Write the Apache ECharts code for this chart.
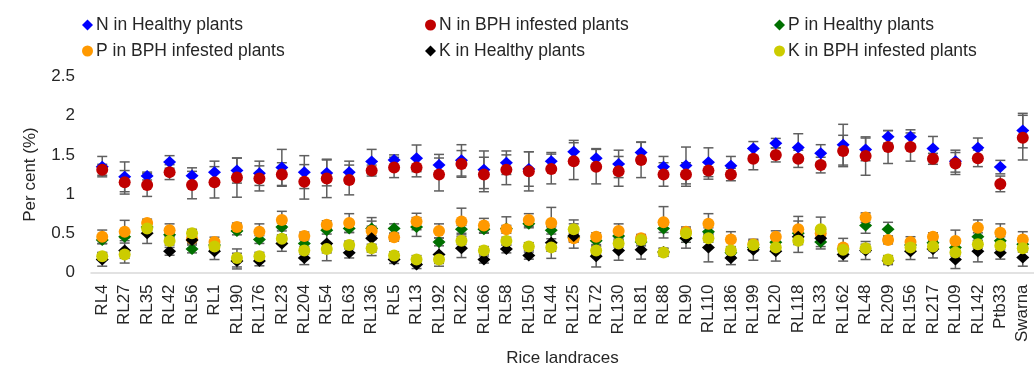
<!DOCTYPE html>
<html>
<head>
<meta charset="utf-8">
<script src="https://cdn.jsdelivr.net/npm/echarts@6/dist/echarts.min.js"></script>
<style>
  html, body { margin: 0; padding: 0; background: #fff; }
  #chart { width: 1034px; height: 372px; }
</style>
</head>
<body>
<div id="chart"></div>
<script>
// 水稻地方品种
const categories = ['RL4','RL27','RL35','RL42','RL56','RL1','RL190','RL176','RL23','RL204','RL54','RL63','RL136','RL5','RL13','RL192','RL22','RL166','RL58','RL150','RL44','RL125','RL72','RL130','RL81','RL88','RL90','RL110','RL186','RL199','RL20','RL118','RL33','RL162','RL48','RL209','RL156','RL217','RL109','RL142','Ptb33','Swarna']

// 平均值
const nHealthy = [1.35,1.22,1.23,1.41,1.235,1.28,1.30,1.265,1.34,1.28,1.27,1.28,1.415,1.435,1.456,1.37,1.43,1.31,1.40,1.32,1.42,1.54,1.456,1.385,1.53,1.35,1.365,1.406,1.36,1.58,1.65,1.594,1.52,1.63,1.57,1.73,1.73,1.58,1.42,1.59,1.344,1.81]
const nBph = [1.31,1.15,1.115,1.28,1.115,1.15,1.21,1.20,1.25,1.156,1.20,1.18,1.30,1.34,1.34,1.25,1.385,1.25,1.31,1.29,1.32,1.42,1.35,1.29,1.435,1.25,1.25,1.30,1.25,1.45,1.50,1.45,1.37,1.55,1.485,1.60,1.60,1.45,1.39,1.456,1.13,1.72]
const pHealthy = [0.415,0.456,0.58,0.48,0.30,0.35,0.53,0.42,0.58,0.37,0.54,0.56,0.56,0.56,0.58,0.39,0.55,0.55,0.56,0.62,0.54,0.45,0.406,0.465,0.39,0.56,0.435,0.52,0.25,0.32,0.385,0.50,0.39,0.30,0.60,0.55,0.35,0.38,0.32,0.456,0.406,0.36]
const pBph = [0.456,0.52,0.63,0.54,0.43,0.39,0.58,0.52,0.67,0.465,0.61,0.63,0.53,0.45,0.65,0.53,0.65,0.60,0.55,0.67,0.63,0.435,0.456,0.53,0.435,0.64,0.52,0.62,0.42,0.36,0.456,0.55,0.50,0.32,0.70,0.415,0.39,0.456,0.40,0.57,0.506,0.42]
const kHealthy = [0.165,0.28,0.50,0.27,0.415,0.27,0.145,0.145,0.37,0.185,0.37,0.25,0.435,0.165,0.10,0.23,0.31,0.165,0.30,0.215,0.38,0.465,0.206,0.28,0.29,0.26,0.435,0.32,0.185,0.29,0.27,0.456,0.435,0.23,0.28,0.15,0.27,0.30,0.165,0.27,0.25,0.19]
const kBph = [0.206,0.23,0.56,0.40,0.50,0.33,0.185,0.206,0.43,0.28,0.30,0.35,0.31,0.215,0.165,0.165,0.406,0.28,0.40,0.33,0.32,0.55,0.28,0.37,0.415,0.256,0.50,0.435,0.28,0.35,0.32,0.406,0.55,0.29,0.31,0.165,0.32,0.33,0.256,0.36,0.34,0.31]

// 误差 (±)
const nHealthyErr = [0.13,0.19,0.05,0.08,0.10,0.14,0.16,0.155,0.23,0.21,0.165,0.14,0.155,0.065,0.17,0.136,0.20,0.24,0.15,0.22,0.11,0.145,0.124,0.175,0.135,0.13,0.235,0.184,0.12,0.09,0.06,0.176,0.11,0.26,0.145,0.08,0.09,0.155,0.14,0.125,0.086,0.22]
const nBphErr = [0.07,0.15,0.145,0.095,0.175,0.20,0.25,0.16,0.15,0.22,0.245,0.19,0.07,0.13,0.12,0.21,0.17,0.22,0.19,0.25,0.19,0.235,0.22,0.19,0.225,0.15,0.15,0.11,0.08,0.14,0.09,0.11,0.10,0.20,0.245,0.21,0.18,0.07,0.14,0.106,0.10,0.285]
const pHealthyErr = [0.05,0.05,0.05,0.05,0.05,0.05,0.05,0.05,0.05,0.06,0.05,0.05,0.14,0.06,0.12,0.05,0.05,0.05,0.15,0.05,0.05,0.05,0.05,0.05,0.05,0.05,0.05,0.05,0.05,0.05,0.05,0.05,0.06,0.05,0.10,0.09,0.05,0.05,0.05,0.05,0.05,0.05]
const pBphErr = [0.085,0.145,0.05,0.08,0.05,0.06,0.05,0.10,0.11,0.05,0.05,0.12,0.06,0.05,0.105,0.09,0.17,0.09,0.05,0.08,0.20,0.05,0.05,0.09,0.05,0.20,0.06,0.13,0.10,0.05,0.075,0.165,0.05,0.115,0.06,0.05,0.066,0.05,0.14,0.10,0.114,0.10]
const kHealthyErr = [0.085,0.16,0.13,0.05,0.05,0.105,0.10,0.06,0.10,0.085,0.22,0.065,0.22,0.05,0.05,0.15,0.12,0.045,0.05,0.045,0.20,0.155,0.136,0.124,0.12,0.05,0.125,0.185,0.085,0.134,0.125,0.20,0.135,0.085,0.115,0.05,0.105,0.115,0.115,0.135,0.08,0.11]
const kBphErr = [0.05,0.05,0.05,0.05,0.05,0.05,0.115,0.05,0.05,0.05,0.05,0.05,0.05,0.05,0.05,0.05,0.05,0.05,0.05,0.05,0.05,0.12,0.05,0.05,0.05,0.05,0.05,0.05,0.05,0.05,0.05,0.05,0.156,0.05,0.05,0.05,0.05,0.05,0.05,0.05,0.05,0.05]

const font = 'Liberation Sans, Arial, sans-serif'
const textColor = '#262626'

// 误差线数据 [x, low, high]
function errData(vals, errs) {
  return vals.map((v, i) => [i, v - errs[i], v + errs[i]])
}
const allErr = [].concat(
  errData(nHealthy, nHealthyErr), errData(nBph, nBphErr),
  errData(pHealthy, pHealthyErr), errData(pBph, pBphErr),
  errData(kHealthy, kHealthyErr), errData(kBph, kBphErr)
)

const myChart = echarts.init(document.getElementById('chart'), null, { renderer: 'canvas' })

function legendCol(left, names) {
  return {
    orient: 'vertical',
    left: left,
    top: 11,
    itemGap: 8,
    itemWidth: 11,
    itemHeight: 11,
    data: names,
    textStyle: { fontFamily: font, fontSize: 17.5, color: textColor, padding: [0, 0, 0, -2] }
  }
}

function scatter(name, data, symbol, color, size) {
  return {
    name: name,
    type: 'scatter',
    data: data,
    symbol: symbol,
    symbolSize: size,
    itemStyle: { color: color, opacity: 1 },
    z: 3
  }
}

const option = {
  animation: false,
  textStyle: { fontFamily: font },
  legend: [
    legendCol(77, ['N in Healthy plants', 'P in BPH infested plants']),
    legendCol(420, ['N in BPH infested plants', 'K in Healthy plants']),
    legendCol(769, ['P in Healthy plants', 'K in BPH infested plants'])
  ],
  grid: { left: 91, top: 76.5, width: 946, bottom: 95.5 },
  xAxis: {
    type: 'category',
    data: categories,
    name: 'Rice landraces',
    nameLocation: 'middle',
    nameGap: 69,
    nameTextStyle: { fontFamily: font, fontSize: 17, color: textColor },
    axisLine: { lineStyle: { color: '#d9d9d9', width: 1.5 } },
    axisTick: { show: false },
    axisLabel: { interval: 0, rotate: 90, margin: 12, fontFamily: font, fontSize: 17, color: textColor }
  },
  yAxis: {
    type: 'value',
    min: 0,
    max: 2.5,
    interval: 0.5,
    name: 'Per cent (%)',
    nameLocation: 'middle',
    nameGap: 52,
    nameTextStyle: { fontFamily: font, fontSize: 17, color: textColor },
    axisLine: { show: false },
    axisTick: { show: false },
    splitLine: { show: false },
    axisLabel: { margin: 16, fontFamily: font, fontSize: 17, color: textColor }
  },
  series: [
    {
      type: 'custom',
      name: 'err',
      data: allErr,
      z: 2,
      renderItem(params, api) {
        const lo = api.coord([api.value(0), api.value(1)])
        const hi = api.coord([api.value(0), api.value(2)])
        const w = 5
        const style = { stroke: '#5f5f5f', lineWidth: 1.5 }
        return {
          type: 'group',
          children: [
            { type: 'line', shape: { x1: lo[0], y1: lo[1], x2: hi[0], y2: hi[1] }, style },
            { type: 'line', shape: { x1: lo[0] - w, y1: lo[1], x2: lo[0] + w, y2: lo[1] }, style },
            { type: 'line', shape: { x1: hi[0] - w, y1: hi[1], x2: hi[0] + w, y2: hi[1] }, style }
          ]
        }
      }
    },
    scatter('N in Healthy plants', nHealthy, 'diamond', '#0000ff', [13, 12]),
    scatter('N in BPH infested plants', nBph, 'circle', '#c00000', 12),
    scatter('P in Healthy plants', pHealthy, 'diamond', '#007000', [13, 12]),
    scatter('P in BPH infested plants', pBph, 'circle', '#ff9900', 12),
    scatter('K in Healthy plants', kHealthy, 'diamond', '#000000', [13, 12]),
    scatter('K in BPH infested plants', kBph, 'circle', '#cccc00', 12)
  ]
}
myChart.setOption(option)
</script>
</body>
</html>
